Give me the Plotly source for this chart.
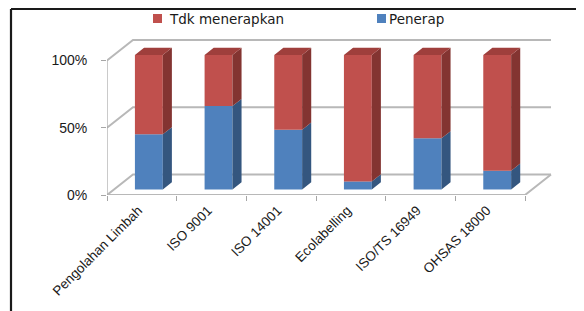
import plotly.graph_objects as go

# ---------------- data ----------------
categories = ["Pengolahan Limbah", "ISO 9001", "ISO 14001", "Ecolabelling", "ISO/TS 16949", "OHSAS 18000"]
penerap = [41, 62, 44.5, 6, 38, 14]              # % Penerap
tdk_menerapkan = [59, 38, 55.5, 94, 62, 86]      # % Tdk menerapkan
series_names = ["Tdk menerapkan", "Penerap"]
y_tickvals = [0, 50, 100]
y_ticktext = ["0%", "50%", "100%"]

# ---------------- style / pseudo-3D geometry ----------------
RED, RED_SIDE, RED_TOP = "#C0504D", "#833431", "#9F3F3C"
BLUE, BLUE_SIDE = "#4F81BD", "#34567F"
GRID = "#B8B8B8"
AXIS = "#A6A6A6"
DX, DY = 0.373, 15.2      # depth offset in axis units (category units, percent)
D1, D2 = 0.27, 0.62       # front / back depth of bars
HW = 0.2                  # half bar width
LABEL_SHIFT = -0.05       # tick-label anchor shift (category units)

# page has an 8px body margin -> figure is 576x303
W, H = 576, 303
ML, MR, MT, MB = 99, 31, 30, 116
PW, PH = W - ML - MR, H - MT - MB
XPX = 69.67               # px per category
YPX = 1.345               # px per percent
x_range = [-0.5, -0.5 + PW / XPX]
y_range = [0, PH / YPX]

n = len(categories)
fig = go.Figure()

# front faces (real bars)
fig.add_trace(go.Bar(
    x=[i + D1 * DX for i in range(n)], y=penerap, base=[D1 * DY] * n,
    width=2 * HW, marker=dict(color=BLUE, line=dict(width=0)),
    name=series_names[1], showlegend=False))
fig.add_trace(go.Bar(
    x=[i + D1 * DX for i in range(n)], y=tdk_menerapkan,
    base=[D1 * DY + p for p in penerap],
    width=2 * HW, marker=dict(color=RED, line=dict(width=0)),
    name=series_names[0], showlegend=False))


def poly_trace(polys, color):
    xs, ys = [], []
    for pts in polys:
        for (a, b) in pts:
            xs.append(a)
            ys.append(b)
        xs.append(pts[0][0])
        ys.append(pts[0][1])
        xs.append(None)
        ys.append(None)
    return go.Scatter(x=xs, y=ys, mode="lines", fill="toself", fillcolor=color,
                      line=dict(width=0, color=color), hoverinfo="skip", showlegend=False)


def side(i, v0, v1):
    xr = i + HW
    return [(xr + D1 * DX, v0 + D1 * DY), (xr + D2 * DX, v0 + D2 * DY),
            (xr + D2 * DX, v1 + D2 * DY), (xr + D1 * DX, v1 + D1 * DY)]


def top(i, v):
    xl, xr = i - HW, i + HW
    return [(xl + D1 * DX, v + D1 * DY), (xr + D1 * DX, v + D1 * DY),
            (xr + D2 * DX, v + D2 * DY), (xl + D2 * DX, v + D2 * DY)]


blue_sides = [side(i, 0, p) for i, p in enumerate(penerap)]
red_sides = [side(i, p, p + t) for i, (p, t) in enumerate(zip(penerap, tdk_menerapkan))]
red_tops = [top(i, p + t) for i, (p, t) in enumerate(zip(penerap, tdk_menerapkan))]
fig.add_trace(poly_trace(blue_sides, BLUE_SIDE))
fig.add_trace(poly_trace(red_sides, RED_SIDE))
fig.add_trace(poly_trace(red_tops, RED_TOP))

# walls / gridlines / floor as shapes below the traces
shapes = []
x0, x1 = -0.5, n - 0.5
for v in y_tickvals:
    shapes.append(dict(type="path", xref="x", yref="y", layer="below",
                       path=f"M{x0},{v} L{x0 + DX},{v + DY} L{x1 + DX},{v + DY}",
                       line=dict(color=GRID, width=2)))
# floor front edge and right edge
shapes.append(dict(type="path", xref="x", yref="y", layer="below",
                   path=f"M{x0},0 L{x1},0 L{x1 + DX},{DY}",
                   line=dict(color=GRID, width=2)))
# vertical value axis line
shapes.append(dict(type="line", xref="x", yref="y", layer="below",
                   x0=x0, y0=0, x1=x0, y1=100, line=dict(color=AXIS, width=1.2)))


def pxx(px):
    return (px - ML) / PW


def pxy(py):
    return (H - MB - py) / PH


# outer frame (left and top)
shapes.append(dict(type="line", xref="paper", yref="paper",
                   x0=pxx(3), y0=pxy(1), x1=pxx(W + 5), y1=pxy(1),
                   line=dict(color="#1A1A1A", width=2.2)))
shapes.append(dict(type="line", xref="paper", yref="paper",
                   x0=pxx(3), y0=pxy(1), x1=pxx(3), y1=pxy(H + 5),
                   line=dict(color="#1A1A1A", width=2.2)))

# legend (drawn manually)
annotations = []
legend_items = [(series_names[0], RED, 145, 159), (series_names[1], BLUE, 369, 379)]
for name, col, sx, tx in legend_items:
    shapes.append(dict(type="rect", xref="paper", yref="paper",
                       x0=pxx(sx), x1=pxx(sx + 9), y0=pxy(15), y1=pxy(6),
                       fillcolor=col, line=dict(width=0)))
    annotations.append(dict(xref="paper", yref="paper", x=pxx(tx), y=pxy(11),
                            text=name, showarrow=False, xanchor="left", yanchor="middle",
                            font=dict(family="DejaVu Sans", size=13.5, color="#1A1A1A")))

fig.update_layout(
    width=W, height=H, barmode="overlay",
    margin=dict(l=ML, r=MR, t=MT, b=MB, autoexpand=False),
    paper_bgcolor="white", plot_bgcolor="white",
    showlegend=False, shapes=shapes, annotations=annotations,
    font=dict(family="Arial, Liberation Sans", size=14, color="#1A1A1A"),
)
fig.update_xaxes(range=x_range, showgrid=False, zeroline=False, showline=False,
                 tickmode="array", tickvals=[i + LABEL_SHIFT for i in range(n)],
                 ticktext=categories,
                 tickangle=-45, ticks="", tickfont=dict(size=13.5),
                 ticklabelstandoff=4,
                 minor=dict(tickmode="array", tickvals=[i - 0.5 for i in range(n + 1)],
                            ticks="outside", ticklen=5, tickcolor=AXIS, tickwidth=1.2,
                            showgrid=False))
fig.update_yaxes(range=y_range, showgrid=False, zeroline=False, showline=False,
                 tickmode="array", tickvals=y_tickvals, ticktext=y_ticktext,
                 ticks="outside", ticklen=5, tickcolor=AXIS, tickwidth=1.2,
                 ticklabelstandoff=11)

fig.write_html("out.html")
